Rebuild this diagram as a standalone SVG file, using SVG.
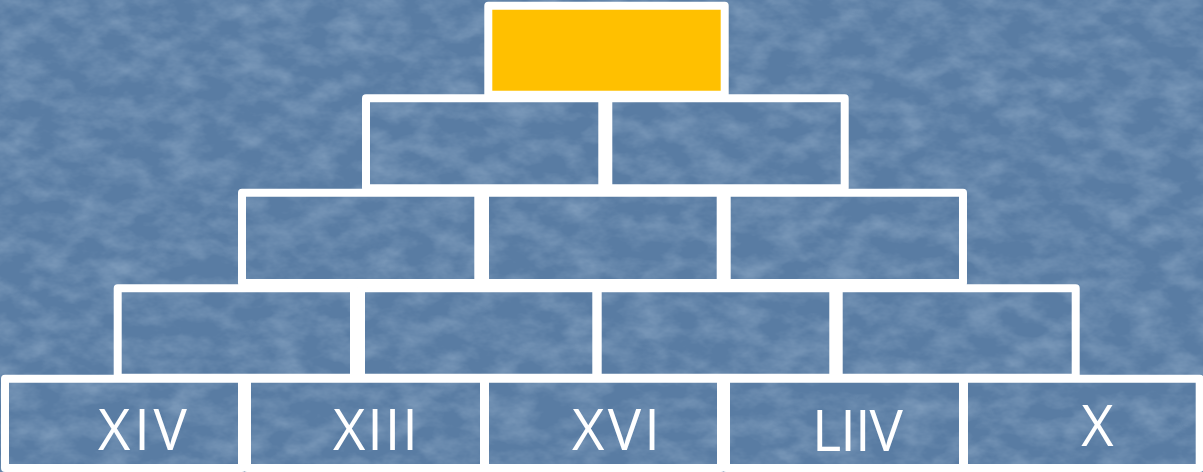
<svg xmlns="http://www.w3.org/2000/svg" width="1203" height="472" viewBox="0 0 1203 472">
  <defs>
    <filter id="tex" x="0" y="0" width="1203" height="472" filterUnits="userSpaceOnUse">
      <feTurbulence type="fractalNoise" baseFrequency="0.03 0.05" numOctaves="4" seed="7" result="n"/>
      <feColorMatrix in="n" type="matrix" values="0 0 0 0 0.62  0 0 0 0 0.75  0 0 0 0 0.88  0.55 0 0 0 -0.2"/>
    </filter>
    <style>
      .brick { fill: none; stroke: #ffffff; stroke-width: 8; stroke-linejoin: round; }
      .top { fill: #ffc000; stroke: #ffffff; stroke-width: 8; stroke-linejoin: round; }
      .lbl { font-family: "Open Sans", "Noto Sans", "DejaVu Sans", sans-serif; font-size: 56px; fill: #ffffff; text-anchor: middle; }
    </style>
  </defs>

  <rect x="0" y="0" width="1203" height="472" fill="#597ca3"/>
  <rect x="0" y="0" width="1203" height="472" fill="#ffffff" filter="url(#tex)"/>

  <g id="row1-top">
    <rect class="top" x="488.3" y="5.7" width="236.4" height="89"/>
  </g>

  <g id="row2-b1"><rect class="brick" x="366" y="98.3" width="236.3" height="90"/></g>
  <g id="row2-b2"><rect class="brick" x="608.3" y="98.3" width="236.4" height="90"/></g>

  <g id="row3-b1"><rect class="brick" x="242" y="192.7" width="236.3" height="90.3"/></g>
  <g id="row3-b2"><rect class="brick" x="485" y="192.7" width="235.7" height="90.3"/></g>
  <g id="row3-b3"><rect class="brick" x="726.7" y="192.7" width="236.3" height="90.3"/></g>

  <g id="row4-b1"><rect class="brick" x="117.7" y="288.3" width="236.3" height="89.4"/></g>
  <g id="row4-b2"><rect class="brick" x="361" y="288.3" width="235.3" height="89.4"/></g>
  <g id="row4-b3"><rect class="brick" x="597.7" y="288.3" width="235.6" height="89.4"/></g>
  <g id="row4-b4"><rect class="brick" x="838.7" y="288.3" width="237" height="89.4"/></g>

  <g id="row5-b1">
    <rect class="brick" x="5" y="378.7" width="237" height="89.3"/>
    <text class="lbl" x="142.5" y="450" textLength="89" lengthAdjust="spacing">XIV</text>
  </g>
  <g id="row5-b2">
    <rect class="brick" x="247" y="378.7" width="237" height="89.3"/>
    <text class="lbl" x="375.5" y="450" textLength="85" lengthAdjust="spacing">XIII</text>
  </g>
  <g id="row5-b3">
    <rect class="brick" x="485" y="378.7" width="236" height="89.3"/>
    <text class="lbl" x="616" y="450" textLength="88" lengthAdjust="spacing">XVI</text>
  </g>
  <g id="row5-b4">
    <rect class="brick" x="726" y="378.7" width="237" height="89.3"/>
    <text class="lbl" x="857.5" y="451" textLength="91" lengthAdjust="spacing">LIIV</text>
  </g>
  <g id="row5-b5">
    <rect class="brick" x="964" y="378.7" width="235.7" height="89.3"/>
    <text class="lbl" x="1097.5" y="446">X</text>
  </g>

  <g id="connectors"/>
</svg>
